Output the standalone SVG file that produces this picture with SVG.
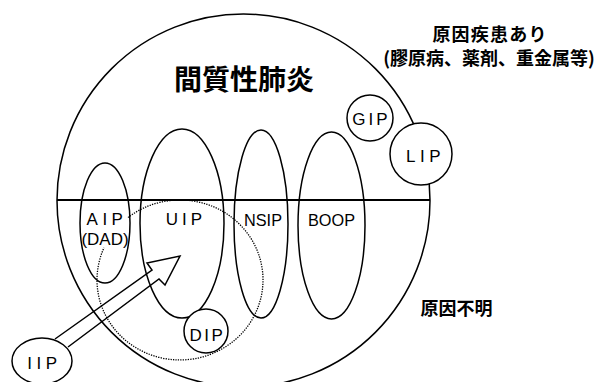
<svg xmlns="http://www.w3.org/2000/svg" width="595" height="382" viewBox="0 0 595 382">
<style>
.ln{fill:none;stroke:#000;stroke-width:1.5}
.wf{fill:#fff;stroke:#000;stroke-width:1.5}
.dot{fill:none;stroke:#000;stroke-width:1.3;stroke-dasharray:1.3 1.2}
.lab{font-family:"Liberation Sans","DejaVu Sans",sans-serif;font-size:17px;fill:#000;text-anchor:middle}
.jp{font-family:"Noto Sans CJK JP","Noto Sans CJK SC",sans-serif;font-weight:bold;fill:#000;text-anchor:middle}
</style>
<rect width="595" height="382" fill="#fff"/>
<g id="interstitial-pneumonia">
  <circle class="ln" cx="243.5" cy="200.5" r="186.5"/>
  <line x1="57" y1="200" x2="430" y2="200" stroke="#000" stroke-width="1.8"/>
  <text class="jp" x="244" y="89.5" font-size="28">間質性肺炎</text>
</g>
<g id="AIP">
  <ellipse class="ln" cx="105" cy="223" rx="25" ry="60"/>
  <text class="lab" x="107" y="225" letter-spacing="4.5">AIP</text>
  <text class="lab" x="105" y="245" font-size="16">(DAD)</text>
</g>
<g id="UIP">
  <ellipse class="ln" cx="182" cy="223.5" rx="42" ry="94.5"/>
  <text class="lab" x="186" y="225" letter-spacing="4">UIP</text>
</g>
<g id="NSIP">
  <ellipse class="ln" cx="261" cy="224" rx="27" ry="94"/>
  <text class="lab" x="263" y="225.5" font-size="18" textLength="38" lengthAdjust="spacingAndGlyphs">NSIP</text>
</g>
<g id="BOOP">
  <ellipse class="ln" cx="331.5" cy="225.5" rx="33.5" ry="93.5"/>
  <text class="lab" x="331.5" y="225.5" font-size="18" textLength="47" lengthAdjust="spacingAndGlyphs">BOOP</text>
</g>
<g id="dotted-region">
  <path class="dot" d="M128,217.6 A83,80 0 1 1 104,247.8"/>
</g>
<g id="DIP">
  <circle class="wf" cx="206" cy="331" r="22"/>
  <text class="lab" x="207.5" y="341" font-size="18" letter-spacing="2.5">DIP</text>
</g>
<g id="GIP">
  <circle class="wf" cx="370" cy="118" r="23"/>
  <text class="lab" x="371.5" y="125" font-size="17" letter-spacing="3">GIP</text>
</g>
<g id="LIP">
  <circle class="wf" cx="421" cy="154" r="31"/>
  <text class="lab" x="425.5" y="162" font-size="18" letter-spacing="4.5">LIP</text>
</g>
<g id="IIP">
  <ellipse class="wf" cx="42" cy="361" rx="30" ry="23"/>
  <text class="lab" x="44.5" y="369" font-size="18" letter-spacing="4.5">IIP</text>
</g>
<g id="connectors">
  <polyline class="ln" stroke-linejoin="miter" points="55,339 152,270 147,263 180,256 165,285 159,279 68,347"/>
</g>
<g id="labels">
  <text class="jp" x="490" y="41" font-size="18" letter-spacing="1.2">原因疾患あり</text>
  <text class="jp" x="489" y="65" font-size="18">(膠原病、薬剤、重金属等)</text>
  <text class="jp" x="456.5" y="315" font-size="18">原因不明</text>
</g>
</svg>
